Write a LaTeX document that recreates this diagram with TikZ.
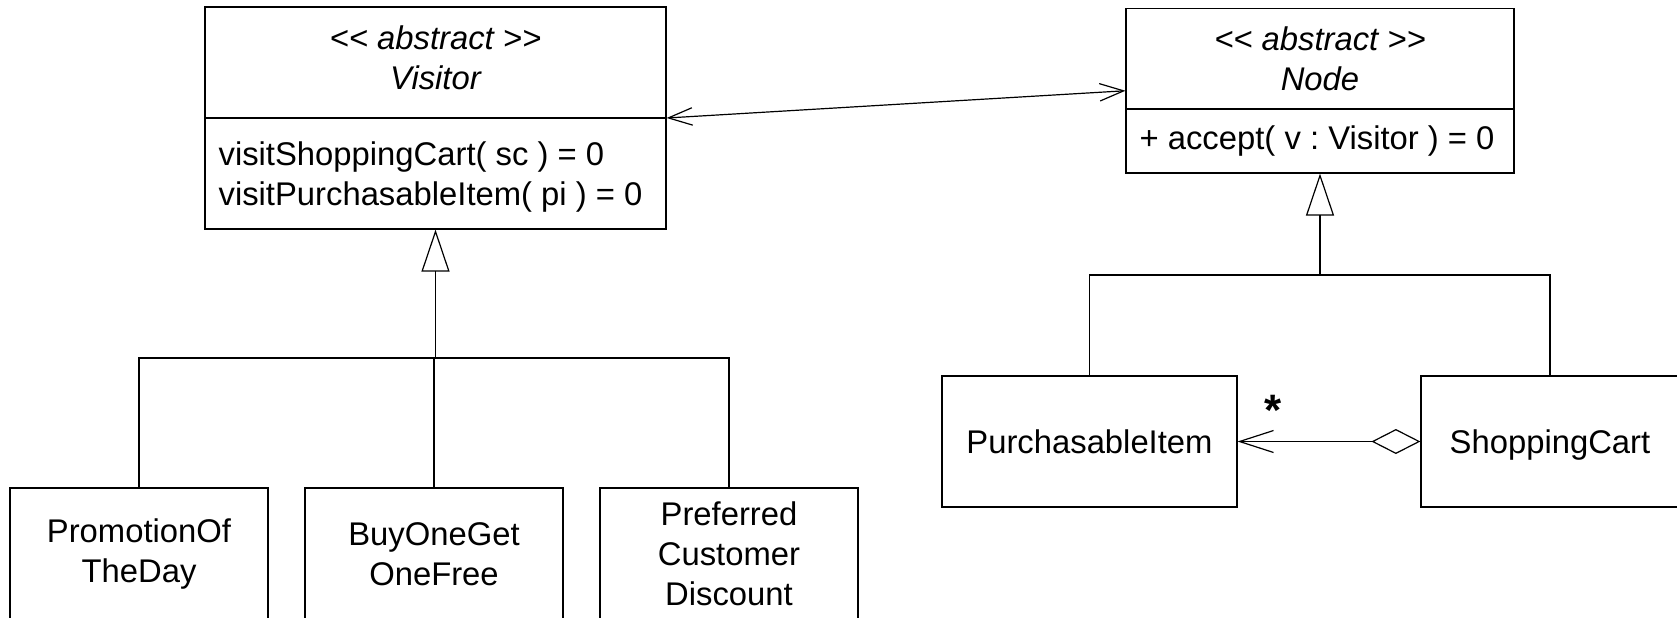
\documentclass[tikz,border=0pt]{standalone}
\usepackage{fontspec}
\setmainfont{Liberation Sans}
\usetikzlibrary{arrows.meta}
\frenchspacing

\tikzset{
  classbox/.style={draw,line width=0.6pt,inner sep=0,align=center},
  inherit/.style={line width=0.6pt,-{Triangle[open,length=21pt,width=14pt]}},
  assoc/.style={line width=0.6pt,{Straight Barb[length=12pt,width=8.7pt]}-{Straight Barb[length=12pt,width=8.7pt]}},
  aggr/.style={line width=0.6pt,{Diamond[open,length=24.5pt,width=12.5pt]}-{Straight Barb[length=17pt,width=11pt]}}
}

\begin{document}
\begin{tikzpicture}[x=0.5pt,y=-0.5pt,line width=0.6pt,font=\fontsize{16.4pt}{20pt}\selectfont]
  \useasboundingbox (0,0) rectangle (1677,617);
  \clip (0,0) rectangle (1677,617);

  % abstract classes
  \node [classbox,minimum width=230.5pt,minimum height=111pt] (visitor) at (435.5,118) {};
  \draw (visitor.west) -- (visitor.east);
  \node [align=center,font=\fontsize{16.4pt}{20pt}\selectfont\itshape] (visitorname) at (435.5,57.5) {<{}< abstract >{}>\\Visitor};
  \node [anchor=west,align=left,inner sep=0] (visitorops) at (218,177) {visitShoppingCart( sc ) = 0\\visitPurchasableItem( pi ) = 0};

  \node [classbox,minimum width=194pt,minimum height=82.25pt] (nodeclass) at (1320,90.75) {};
  \coordinate (nodediv) at (1320,109);
  \draw (nodeclass.west |- nodediv) -- (nodeclass.east |- nodediv);
  \node [align=center,font=\fontsize{16.4pt}{20pt}\selectfont\itshape] (nodename) at (1320,59) {<{}< abstract >{}>\\Node};
  \node [anchor=west,inner sep=0] (nodeops) at (1139,141) {+ accept( v : Visitor ) = 0};

  \draw [assoc] (visitor.east) -- (nodeclass.west);

  % concrete visitors
  \coordinate (vbus) at (435.5,358);
  \foreach \n/\x/\t in {promo/139/{PromotionOf\\TheDay},buyone/434/{BuyOneGet\\OneFree},discount/729/{Preferred\\Customer\\Discount}}{
    \node [classbox,minimum width=129pt,minimum height=66pt] (\n) at (\x,554) {\t};
  }
  \draw [inherit] (vbus) -- (visitor.south);
  \draw (promo.north) |- (vbus) -| (discount.north);
  \draw (buyone.north) -- (buyone.north |- vbus);

  % concrete nodes
  \coordinate (nbus) at (1320,275);
  \node [classbox,minimum width=147.5pt,minimum height=65.5pt] (item) at (1089.5,441.5) {PurchasableItem};
  \node [classbox,minimum width=129pt,minimum height=65.5pt,text depth=0pt] (cart) at (1550,441.5) {ShoppingCart};
  \draw [inherit] (nbus) -- (nodeclass.south);
  \draw (item.north) |- (nbus) -| (cart.north);

  \draw [aggr] (cart.west) -- (item.east);
  \node [font=\fontsize{22pt}{22pt}\selectfont\bfseries] (mult) at (1273,410) {*};
\end{tikzpicture}
\end{document}
